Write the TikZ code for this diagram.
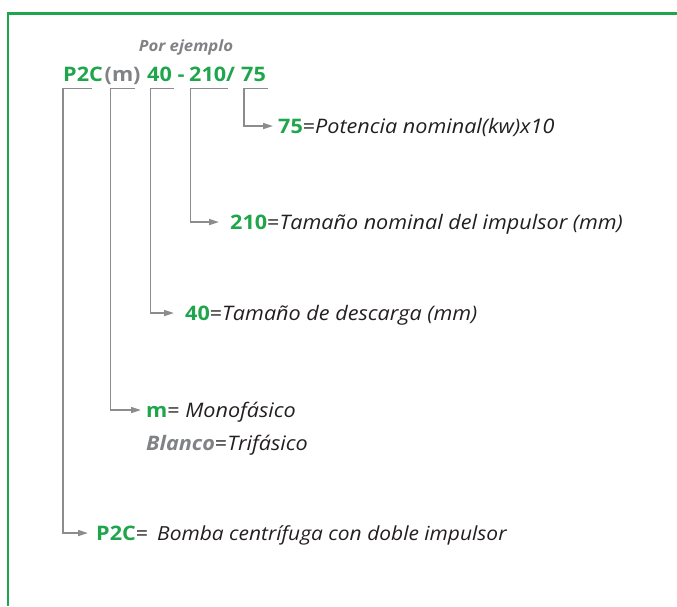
\documentclass[tikz,border=0pt]{standalone}
\usepackage{fontspec}
\setmainfont{Open Sans}[FakeStretch=1.08]
\usetikzlibrary{arrows.meta}
\definecolor{grn}{HTML}{1FA54B}
\definecolor{lgrey}{HTML}{8C8C8C}
\definecolor{tgrey}{HTML}{808285}
\definecolor{dark}{HTML}{231F20}
\tikzset{
  frame/.style={draw=grn, line width=2.5pt},
  brk/.style={draw=lgrey, line width=1.6pt, -{Triangle[length=10pt,width=6pt]}},
  code/.style={inner sep=0pt, anchor=base west, font=\fontsize{20}{24}\selectfont\bfseries},
  lbl/.style={inner sep=0pt, anchor=base west, text=dark, font=\fontsize{20}{24}\selectfont},
}
\newcommand{\gnum}[1]{\textcolor{grn}{\bfseries #1}}
\begin{document}
\begin{tikzpicture}[x=1pt,y=-1pt]
\useasboundingbox (0,0) rectangle (677,606);
\draw[frame] (8,606) -- (8,13.5) -- (677,13.5);
% header
\node[inner sep=0pt, anchor=base, text=tgrey, font=\fontsize{15.5}{18}\selectfont\bfseries\itshape] (ej) at (186,51) {Por ejemplo};
\node[code, text=grn] (cP) at (63,81.5) {P2C};
\node[code, text=tgrey] (cm) at (104.5,81.5) {(m)};
\node[code, text=grn] (c40) at (147,81.5) {40};
\node[code, text=grn] (cd) at (177.5,81.5) {-};
\node[code, text=grn] (c210) at (189,81.5) {210/};
\node[code, text=grn] (c75) at (241,81.5) {75};
% bracket tops
\coordinate (b1) at (92,88.5);
\coordinate (b2) at (135,88.5);
\coordinate (b3) at (174,88.5);
\coordinate (b4) at (228,88.5);
\coordinate (b5) at (268,88.5);
% arrow tips
\coordinate (t5) at (273,126);
\coordinate (t4) at (219,222);
\coordinate (t3) at (174,313);
\coordinate (t2) at (141,410);
\coordinate (t1) at (88,533);
% labels
\node[lbl] (l5) at (278,133) {\gnum{75}=\textit{Potencia nominal(kw)x10}};
\node[lbl] (l4) at (230,229) {\gnum{210}=\textit{Tamaño nominal del impulsor (mm)}};
\node[lbl] (l3) at (185,320) {\gnum{40}=\textit{Tamaño de descarga (mm)}};
\node[lbl] (l2) at (146,417) {\gnum{m}= \textit{Monofásico}};
\node[lbl] (l2b) at (146,450) {\textcolor{tgrey}{\bfseries\itshape Blanco}=\textit{Trifásico}};
\node[lbl] (l1) at (96,540) {\gnum{P2C}=\hspace{9pt}{\fontsize{19.4}{24}\selectfont\itshape Bomba centrífuga con doble impulsor}};
% connectors
\draw[brk] (b5) -- (244,88.5) |- (t5);
\draw[brk] (b4) -- (190.5,88.5) |- (t4);
\draw[brk] (b3) -- (150.5,88.5) |- (t3);
\draw[brk] (b2) -- (110.5,88.5) |- (t2);
\draw[brk] (b1) -- (63,88.5) |- (t1);
\end{tikzpicture}
\end{document}
